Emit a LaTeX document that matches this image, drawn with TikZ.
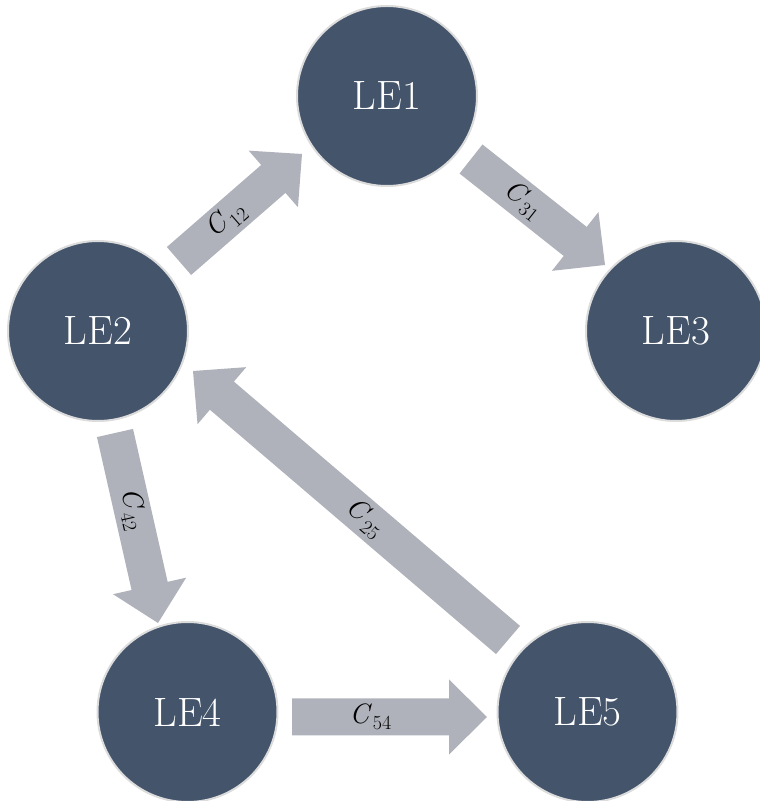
\documentclass[tikz,border=0pt]{standalone}
\usepackage{fontspec}
\usetikzlibrary{calc}
\definecolor{nodefill}{HTML}{44546A}
\definecolor{nodeline}{HTML}{DCDCDC}
\definecolor{arrowfill}{RGB}{175,178,186}
\tikzset{
  lenode/.style={circle, fill=nodefill, draw=nodeline, line width=2pt,
    minimum size=180pt, inner sep=0pt, text=white,
    font=\fontsize{41}{48}\selectfont},
  fatfill/.style={fill=arrowfill, draw=none},
  clabel/.style={text=black, inner sep=0pt, font=\fontsize{28}{32}\selectfont}
}
\newcommand{\cname}[1]{\textit{C}\kern1pt\raisebox{-6pt}{\fontsize{20}{24}\selectfont #1}}
\newcommand{\fatarrow}[3]{%
  \coordinate (hb) at ($(#2)!38pt!(#1)$);
  \fill[fatfill] ($(#1)!18.5pt!90:(#2)$) -- ($(hb)!18.5pt!90:(#2)$)
    -- ($(hb)!37.5pt!90:(#2)$) -- (#2) -- ($(hb)!37.5pt!-90:(#2)$)
    -- ($(hb)!18.5pt!-90:(#2)$) -- ($(#1)!18.5pt!-90:(#2)$) -- cycle;
  \path (#1) -- (hb) node[midway, sloped, clabel] {\cname{#3}};
}
\begin{document}
\begin{tikzpicture}[x=1pt,y=1pt]
\useasboundingbox (0,0) rectangle (760,801);
% nodes
\node[lenode] (LE1) at (387,705) {LE1};
\node[lenode] (LE2) at (98,470) {LE2};
\node[lenode] (LE3) at (676,470) {LE3};
\node[lenode] (LE4) at (187.5,89) {LE4};
\node[lenode] (LE5) at (587.5,89) {LE5};
% arrow ends
\coordinate (t12) at (179,540);
\coordinate (e12) at (302,647);
\coordinate (t31) at (471,642);
\coordinate (e31) at (605,536);
\coordinate (t42) at (115,368);
\coordinate (e42) at (158,178);
\coordinate (t54) at (292,84);
\coordinate (e54) at (487,84);
\coordinate (t25) at (508,161);
\coordinate (e25) at (193,430);
\fatarrow{t12}{e12}{12}
\fatarrow{t31}{e31}{31}
\fatarrow{t42}{e42}{42}
\fatarrow{t54}{e54}{54}
\fatarrow{t25}{e25}{25}
\end{tikzpicture}
\end{document}
